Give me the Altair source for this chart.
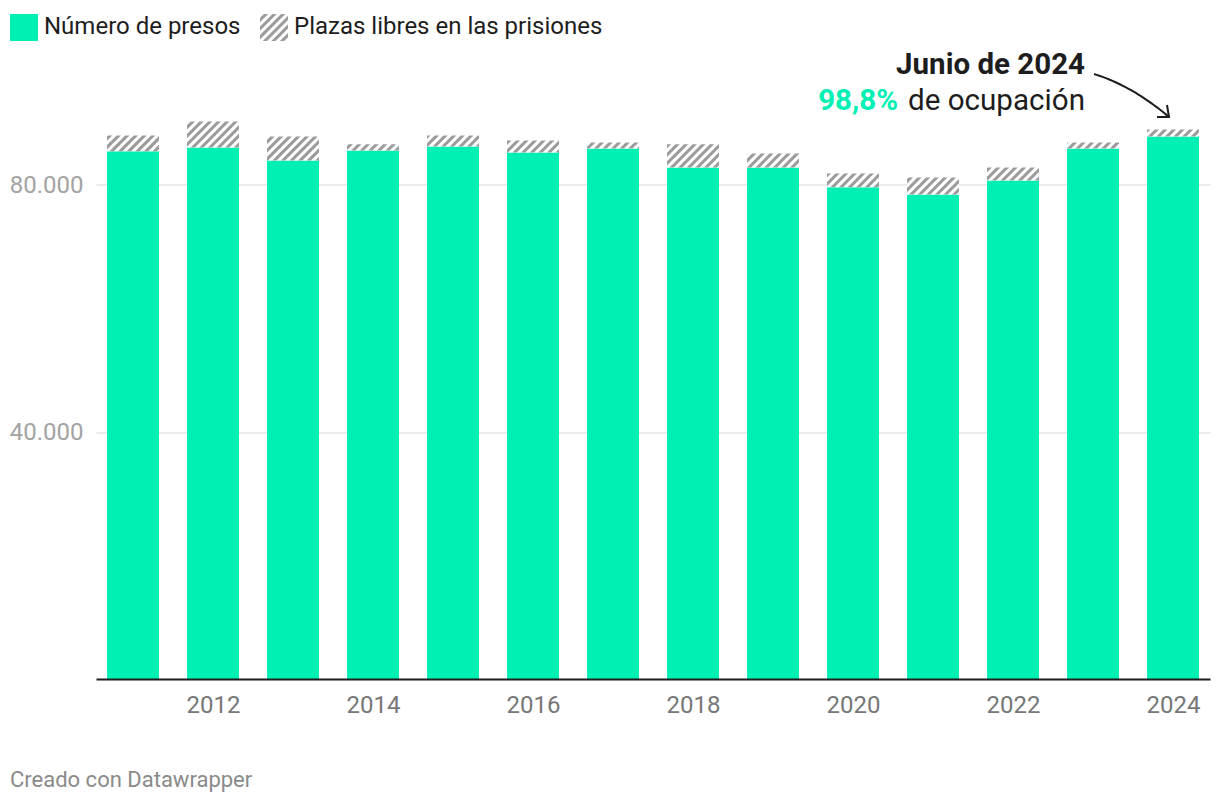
import altair as alt
import pandas as pd
import numpy as np

# ---------------- data ----------------
years = [2011, 2012, 2013, 2014, 2015, 2016, 2017, 2018, 2019, 2020, 2021, 2022, 2023, 2024]
presos = [85480, 86080, 83980, 85590, 86240, 85270, 85910, 82840, 82840, 79640, 78460, 80730, 85910, 87860]
capacidad = [88020, 90280, 87860, 86600, 88020, 87210, 86890, 86600, 85100, 81860, 81210, 82840, 86890, 89000]
tick_years = [2012, 2014, 2016, 2018, 2020, 2022, 2024]
y_ticks = [40000, 80000]
legend_labels = ["Número de presos", "Plazas libres en las prisiones"]
annot_title = "Junio de 2024"
annot_pct = "98,8%"
annot_rest = "de ocupación"
credit = "Creado con Datawrapper"

# ---------------- layout ----------------
W, H = 1114, 617.5
XMIN, XMAX = 2010.5375, 2024.4625
YMAX = 100000
PAD_L, PAD_T, PAD_R, PAD_B = 88, 53.5, 2, 113
GREEN = "#00f0b3"
HATCH = "#9b9b9b"
DARK = "#1d1d1d"
FONT = "Roboto"
BAR_PX = 52
P = 8.6  # stripe period (px)

def px_x(x):
    return (x - XMIN) * W / (XMAX - XMIN)

def px_y(y):
    return H - y * H / YMAX

def dx(p):
    return XMIN + p * (XMAX - XMIN) / W

def dy(p):
    return (H - p) * YMAX / H

def stripes(xl, xr, yt, yb, key):
    rows = []
    kmin = int(np.floor((xl + yt) / P)) - 1
    kmax = int(np.ceil((xr + yb) / P)) + 1
    for k in range(kmin, kmax + 1):
        c1 = k * P
        c2 = c1 + P / 2
        a = max(xl, c1 - yb)
        b = min(xr, c2 - yt)
        if b - a <= 1e-6:
            continue
        xs = sorted(set([a, b] + [v for v in (c1 - yt, c1 - yb, c2 - yt, c2 - yb) if a < v < b]))
        for xv in xs:
            top = max(yt, c1 - xv)
            bot = min(yb, c2 - xv)
            rows.append(dict(sid=f"{key}-{k}", x=dx(xv), y=dy(top), y2=dy(bot)))
    return rows

df = pd.DataFrame({"year": years, "presos": presos, "capacidad": capacidad})

hatch_rows = []
for yr, p_, c_ in zip(years, presos, capacidad):
    cx = px_x(yr)
    hatch_rows += stripes(cx - BAR_PX / 2, cx + BAR_PX / 2, px_y(c_), px_y(p_), str(yr))
# legend swatch (page px 260-288 x, 14-41 y)
hatch_rows += stripes(260 - 96, 288 - 96, 14 - 61.5, 41 - 61.5, "leg")
hatch_df = pd.DataFrame(hatch_rows)

xscale = alt.Scale(domain=[XMIN, XMAX], nice=False, zero=False, padding=0)
yscale = alt.Scale(domain=[0, YMAX], nice=False, padding=0)
xaxis = alt.Axis(values=tick_years, format="d", grid=False, ticks=False,
                 domain=True, domainColor=DARK, domainWidth=2,
                 labelFontSize=24, labelColor="#777777", labelFont=FONT,
                 labelPadding=14, zindex=1, title=None)
yaxis = alt.Axis(values=y_ticks, grid=True, gridColor="#e5e5e5", gridWidth=1.5,
                 domain=False, ticks=False, labelFontSize=24,
                 labelColor="#a3a3a3", labelFont=FONT, labelPadding=13,
                 labelBaseline="middle", title=None,
                 labelExpr="replace(format(datum.value, ','), ',', '.')")

def X(f):
    return alt.X(f, scale=xscale, axis=xaxis, title=None)

def Y(f):
    return alt.Y(f, scale=yscale, axis=yaxis, title=None)

bars = alt.Chart(df).mark_bar(size=BAR_PX, color=GREEN).encode(
    x=X("year:Q"), y=Y("presos:Q"))

free_bg = alt.Chart(df).mark_bar(size=BAR_PX, color="white").encode(
    x=X("year:Q"), y=Y("presos:Q"), y2="capacidad:Q")

hatch = alt.Chart(hatch_df).mark_area(color=HATCH, orient="vertical", opacity=1).encode(
    x=X("x:Q"), y=Y("y:Q"), y2="y2:Q", detail="sid:N")

one = df.head(1)
leg_sq = alt.Chart(one).mark_rect(color=GREEN).encode(
    x=alt.value(10 - 96), x2=alt.value(38 - 96), y=alt.value(14 - 61.5), y2=alt.value(41 - 61.5))
leg_t1 = alt.Chart(one).mark_text(align="left", baseline="middle", fontSize=24,
                                  font=FONT, color=DARK, text=legend_labels[0]).encode(
    x=alt.value(44 - 96), y=alt.value(27 - 61.5))
leg_t2 = alt.Chart(one).mark_text(align="left", baseline="middle", fontSize=24,
                                  font=FONT, color=DARK, text=legend_labels[1]).encode(
    x=alt.value(294 - 96), y=alt.value(27 - 61.5))

ann1 = alt.Chart(one).mark_text(align="right", baseline="alphabetic", fontSize=29.5,
                                fontWeight="bold", font=FONT, color=DARK,
                                text=annot_title).encode(
    x=alt.value(1085 - 96), y=alt.value(74 - 61.5))
ann2 = alt.Chart(one).mark_text(align="right", baseline="alphabetic", fontSize=29.6,
                                font=FONT, color=DARK, text=annot_rest).encode(
    x=alt.value(1085 - 96), y=alt.value(110 - 61.5))
ann3 = alt.Chart(one).mark_text(align="right", baseline="alphabetic", fontSize=29.5,
                                fontWeight="bold", font=FONT, color=GREEN,
                                text=annot_pct).encode(
    x=alt.value(898 - 96), y=alt.value(110 - 61.5))

# arrow (annotation geometry, page px -> data coords)
P0, C, P2 = np.array([1094, 74.0]), np.array([1132.4, 85.9]), np.array([1169, 117.0])
t = np.linspace(0, 1, 30)
curve = [(1 - s) ** 2 * P0 + 2 * (1 - s) * s * C + s ** 2 * P2 for s in t]
arrow_df = pd.DataFrame({
    "i": list(range(len(curve))),
    "x": [dx(c[0] - 96) for c in curve],
    "y": [dy(c[1] - 61.5) for c in curve],
})
head_pts = [(1157, 117), (1169, 117), (1167, 105)]
head_df = pd.DataFrame({
    "i": [0, 1, 2],
    "x": [dx(p[0] - 96) for p in head_pts],
    "y": [dy(p[1] - 61.5) for p in head_pts],
})
arrow = alt.Chart(arrow_df).mark_line(color=DARK, strokeWidth=2).encode(
    x=X("x:Q"), y=Y("y:Q"), order="i:Q")
head = alt.Chart(head_df).mark_line(color=DARK, strokeWidth=2, strokeJoin="miter").encode(
    x=X("x:Q"), y=Y("y:Q"), order="i:Q")

cred = alt.Chart(one).mark_text(align="left", baseline="alphabetic", fontSize=22,
                                font=FONT, color="#8a8a8a", text=credit).encode(
    x=alt.value(10 - 96), y=alt.value(786.5 - 61.5))

chart = alt.layer(bars, free_bg, hatch, leg_sq, leg_t1, leg_t2, ann1, ann2, ann3,
                  arrow, head, cred).properties(
    width=W, height=H,
    autosize=alt.AutoSizeParams(type="none"),
    padding={"left": PAD_L, "top": PAD_T, "right": PAD_R, "bottom": PAD_B},
).configure(font=FONT, background="white",
            view=alt.ViewConfig(stroke="transparent"))

chart.save("out.html", embed_options={"renderer": "svg", "actions": False})
